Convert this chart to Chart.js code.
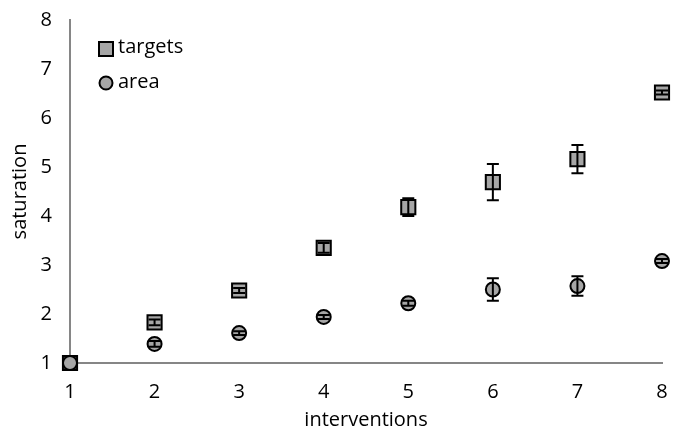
<!DOCTYPE html>
<html>
<head>
<meta charset="utf-8">
<script src="https://cdn.jsdelivr.net/npm/chart.js@4"></script>
<style>
	html, body { margin: 0; padding: 0; background: #fff; }
	#wrap { width: 674px; height: 432px; }
</style>
</head>
<body>
<div id="wrap"><canvas id="myChart" width="674" height="432"></canvas></div>
<script>
const interventions = [1, 2, 3, 4, 5, 6, 7, 8];
const targets = [1.0, 1.83, 2.48, 3.35, 4.18, 4.69, 5.16, 6.52];
const targetsErr = [0.0, 0.06, 0.05, 0.1, 0.18, 0.37, 0.29, 0.04];
const area = [1.0, 1.39, 1.61, 1.94, 2.22, 2.5, 2.57, 3.08];
const areaErr = [0.0, 0.06, 0.04, 0.04, 0.05, 0.23, 0.2, 0.04];

const FONT = "'Open Sans', sans-serif";
const FSIZE = 20;
const AXIS_GREY = "#868686";
const MARKER_FILL = "#a6a6a6";

// vertical error bars with caps, drawn on top of the markers
const errorBars = {
	id: "errorBars",
	afterDatasetsDraw(chart) {
		const ctx = chart.ctx;
		const x = chart.scales.x, y = chart.scales.y;
		ctx.save();
		ctx.strokeStyle = "#000";
		ctx.lineWidth = 2;
		chart.data.datasets.forEach(ds => {
			ds.data.forEach((p, i) => {
				const e = ds.errors[i];
				if (!e) return;
				const px = x.getPixelForValue(p.x);
				const top = y.getPixelForValue(p.y + e);
				const bot = y.getPixelForValue(p.y - e);
				ctx.beginPath();
				ctx.moveTo(px, top); ctx.lineTo(px, bot);
				ctx.moveTo(px - 6, top); ctx.lineTo(px + 6, top);
				ctx.moveTo(px - 6, bot); ctx.lineTo(px + 6, bot);
				ctx.stroke();
			});
		});
		ctx.restore();
	}
};

// legend inside the plot, top left
const innerLegend = {
	id: "innerLegend",
	afterDraw(chart) {
		const ctx = chart.ctx;
		ctx.save();
		ctx.font = FSIZE + "px " + FONT;
		ctx.textBaseline = "middle";
		ctx.lineWidth = 2;
		ctx.strokeStyle = "#000";
		ctx.fillStyle = MARKER_FILL;
		// square
		ctx.fillRect(99, 42, 14, 14);
		ctx.strokeRect(99, 42, 14, 14);
		// circle
		ctx.beginPath();
		ctx.arc(106, 83, 6.5, 0, Math.PI * 2);
		ctx.fill(); ctx.stroke();
		ctx.fillStyle = "#000";
		ctx.fillText(chart.data.datasets[0].label, 118, 47);
		ctx.fillText(chart.data.datasets[1].label, 118, 82);
		ctx.restore();
	}
};

new Chart(document.getElementById("myChart"), {
	type: "scatter",
	data: {
		datasets: [
			{
				label: "targets",
				data: interventions.map((v, i) => ({ x: v, y: targets[i] })),
				errors: targetsErr,
				order: 0,
				pointStyle: "rect",
				pointRadius: 10,
				pointBackgroundColor: MARKER_FILL,
				pointBorderColor: "#000",
				pointBorderWidth: 2,
				clip: false
			},
			{
				label: "area",
				data: interventions.map((v, i) => ({ x: v, y: area[i] })),
				errors: areaErr,
				order: -1,
				pointStyle: "circle",
				pointRadius: 7,
				pointBackgroundColor: MARKER_FILL,
				pointBorderColor: "#000",
				pointBorderWidth: 2,
				clip: false
			}
		]
	},
	options: {
		responsive: false,
		animation: false,
		layout: { padding: { top: 20, right: 0, left: 8, bottom: 0 } },
		plugins: {
			legend: { display: false },
			tooltip: { enabled: false }
		},
		scales: {
			x: {
				type: "linear",
				min: 1, max: 8,
				grid: { display: false, drawTicks: true, tickLength: 6, tickColor: AXIS_GREY },
				border: { color: AXIS_GREY, width: 2 },
				ticks: { stepSize: 1, color: "#000", font: { family: FONT, size: FSIZE }, padding: 11 },
				title: { display: true, text: "interventions", color: "#000", font: { family: FONT, size: FSIZE }, padding: 0 },
				afterFit(s) { s.height = 69; s.paddingLeft = 0; s.paddingRight = 0; }
			},
			y: {
				min: 1, max: 8,
				grid: { display: false, drawTicks: true, tickLength: 6, tickColor: AXIS_GREY },
				border: { color: AXIS_GREY, width: 2 },
				ticks: { stepSize: 1, color: "#000", font: { family: FONT, size: FSIZE }, padding: 12 },
				title: { display: true, text: "saturation", color: "#000", font: { family: FONT, size: FSIZE }, padding: 0 },
				afterFit(s) { s.width = 62; s.paddingTop = 0; s.paddingBottom = 0; }
			}
		}
	},
	plugins: [errorBars, innerLegend]
});
</script>
</body>
</html>
